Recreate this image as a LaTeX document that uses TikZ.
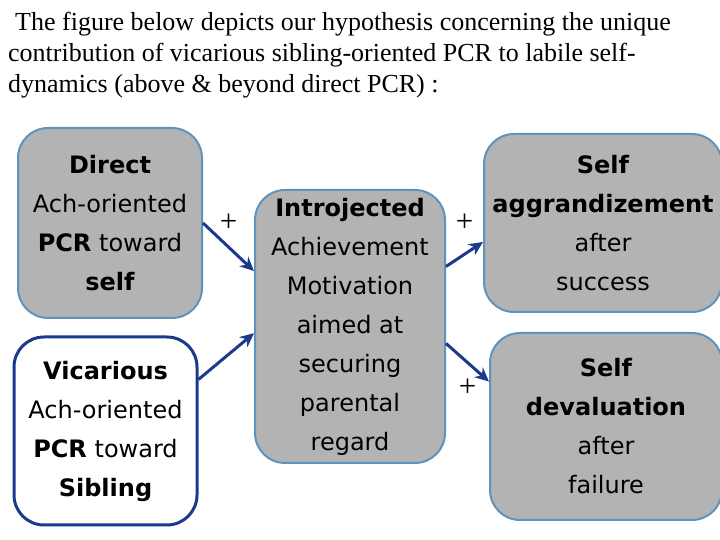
\documentclass[tikz,border=0pt]{standalone}
\usepackage{fontspec}
\setmainfont{Liberation Serif}
\newfontfamily\boxfont{DejaVu Sans}
\usetikzlibrary{arrows.meta,positioning,calc}
\definecolor{boxgray}{HTML}{B3B3B3}
\definecolor{boxline}{HTML}{5F93BC}
\definecolor{navy}{HTML}{1A3A8C}

\begin{document}
\begin{tikzpicture}[x=1pt, y=1pt, >={Stealth[length=14pt,width=13pt]},
	box/.style={rectangle, rounded corners=30pt, draw=boxline, line width=2pt, fill=boxgray, align=center, inner sep=2pt, font=\boxfont\fontsize{24}{39}\selectfont},
	link/.style={->, draw=navy, line width=3pt},
	sign/.style={text=black, inner sep=0pt, font=\fontsize{31}{31}\selectfont},
	title/.style={anchor=base west, inner sep=0pt, font=\fontsize{26}{31}\selectfont}]
	\useasboundingbox (0,0) rectangle (720,540);
	\clip (0,0) rectangle (720,540);
	% heading
	\node [title] (line1) at (15,509) {The figure below depicts our hypothesis concerning the unique};
	\node [title] (line2) at (8,478) {contribution of vicarious sibling-oriented PCR to labile self-};
	\node [title] (line3) at (8,447) {dynamics (above \& beyond direct PCR) :};
	% boxes
	\node [box, minimum width=184pt, minimum height=190pt] (direct) at (110,317) {\textbf{Direct}\\Ach-oriented\\\textbf{PCR} toward\\\textbf{self}};
	\node [box, fill=white, draw=navy, line width=3pt, minimum width=183pt, minimum height=188pt] (vicar) at (105.5,109) {\textbf{Vicarious}\\Ach-oriented\\\textbf{PCR} toward\\\textbf{Sibling}};
	\node [box, minimum width=190pt, minimum height=273pt] (intro) at (350,213.5) {\textbf{Introjected}\\Achievement\\Motivation\\aimed at\\securing\\parental\\regard};
	\node [box, minimum width=238pt, minimum height=178pt] (aggr) at (603,317) {\textbf{Self}\\\textbf{aggrandizement}\\after\\success};
	\node [box, minimum width=232pt, minimum height=187pt] (deval) at (606,113.5) {\textbf{Self}\\\textbf{devaluation}\\after\\failure};
	% arrows
	\draw [link] (direct.east) -- node [sign, yshift=24pt] (plusa) {+} (intro.150);
	\draw [link] (vicar.29) -- (intro.184);
	\draw [link] (intro.32) -- node [sign, yshift=32pt] (plusb) {+} (aggr.189);
	\draw [link] (intro.350) -- node [sign, yshift=-25pt] (plusc) {+} (deval.159);
\end{tikzpicture}
\end{document}
